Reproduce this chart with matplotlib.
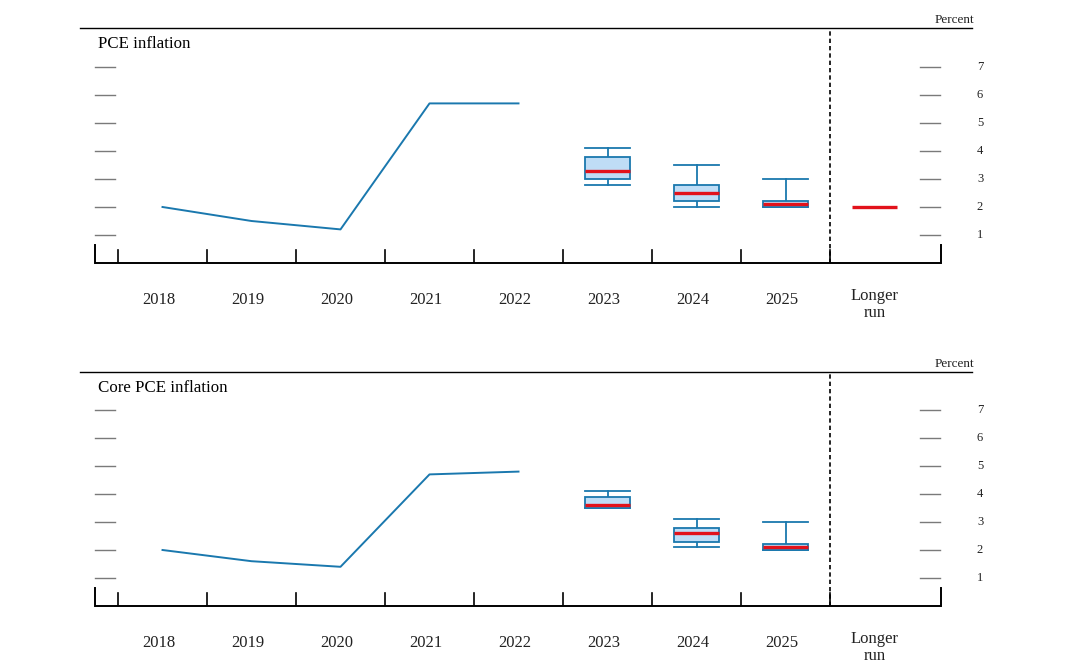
import matplotlib
matplotlib.use("Agg")
import matplotlib.pyplot as plt
from matplotlib.patches import Rectangle

# ---------------- data ----------------
hist_years = ["2018", "2019", "2020", "2021", "2022"]
proj_years = ["2023", "2024", "2025"]
categories = hist_years + proj_years + ["Longer\nrun"]

pce_hist = [2.0, 1.5, 1.2, 5.7, 5.7]
pce_median = [3.3, 2.5, 2.1]
pce_ct_low = [3.0, 2.2, 2.0]
pce_ct_high = [3.8, 2.8, 2.2]
pce_range_low = [2.8, 2.0, 2.0]
pce_range_high = [4.1, 3.5, 3.0]
pce_longer_run = 2.0

core_hist = [2.0, 1.6, 1.4, 4.7, 4.8]
core_median = [3.6, 2.6, 2.1]
core_ct_low = [3.5, 2.3, 2.0]
core_ct_high = [3.9, 2.8, 2.2]
core_range_low = [3.5, 2.1, 2.0]
core_range_high = [4.1, 3.1, 3.0]

y_ticks = [1, 2, 3, 4, 5, 6, 7]
titles = ["PCE inflation", "Core PCE inflation"]

# ---------------- style ----------------
BLUE = "#1a78ae"
FILL = "#bfddf6"
RED = "#e2121b"
GRAY = "#7a7a7a"
TXT = "#222222"
FONT = "Liberation Serif"

W, H = 1082, 669
fig = plt.figure(figsize=(W / 100, H / 100), dpi=100)

PX_PER_CAT = 89.0
CAT0_PX = 162.5
PX_PER_UNIT = 28.0
LEFT_PX, RIGHT_PX = 80, 975


def px2x(px):
    return (px - CAT0_PX) / PX_PER_CAT


def draw_panel(top_px, zero_px, title, hist, med, ctl, cth, rl, rh, lr):
    ax = fig.add_axes([LEFT_PX / W, 1 - zero_px / H,
                       (RIGHT_PX - LEFT_PX) / W, (zero_px - top_px) / H])
    ymax = (zero_px - top_px) / PX_PER_UNIT
    ax.set_xlim(px2x(LEFT_PX), px2x(RIGHT_PX))
    ax.set_ylim(0, ymax)
    for s in ["left", "right", "bottom"]:
        ax.spines[s].set_visible(False)
    ax.spines["top"].set_linewidth(1.0)
    ax.spines["top"].set_bounds(px2x(LEFT_PX), px2x(972))
    ax.set_xticks([])
    ax.set_yticks([])

    xl, xr = px2x(95), px2x(940.5)
    # bottom axis
    ax.plot([xl, xr], [0, 0], color="black", lw=1.4, solid_capstyle="butt",
            clip_on=False)
    tall = 18 / PX_PER_UNIT
    short = 13 / PX_PER_UNIT
    for x in (xl, xr):
        ax.plot([x, x], [0, tall], color="black", lw=1.4, clip_on=False)
    n = len(categories) - 1
    for i in range(n + 1):
        x = i - 0.5
        ax.plot([x, x], [0, short], color="black", lw=1.2)

    # y tick marks (gray dashes) and labels
    for v in y_ticks:
        ax.plot([px2x(95), px2x(115)], [v, v], color=GRAY, lw=1.0)
        ax.plot([px2x(920), px2x(940)], [v, v], color=GRAY, lw=1.0)
        ax.text(px2x(980), v, str(v), ha="center", va="center",
                fontsize=9, family=FONT, color=TXT, clip_on=False)
    ax.text(px2x(974), ymax + 8 / PX_PER_UNIT, "Percent", ha="right",
            va="center", fontsize=9.5, family=FONT, color=TXT, clip_on=False)

    # title
    ax.text(px2x(98), ymax - 16 / PX_PER_UNIT, title, ha="left", va="center",
            fontsize=12.2, family=FONT, color="black")

    # dashed separator
    ax.plot([7.5, 7.5], [0, ymax], color="black", lw=1.2,
            linestyle=(0, (2.6, 1.8)))

    # history line
    ax.plot(range(len(hist)), hist, color=BLUE, lw=1.4)

    # projection boxes
    hw = 0.25
    for j in range(len(med)):
        x = len(hist) + j
        ax.plot([x, x], [cth[j], rh[j]], color=BLUE, lw=1.3)
        ax.plot([x, x], [rl[j], ctl[j]], color=BLUE, lw=1.3)
        ax.plot([x - hw, x + hw], [rh[j], rh[j]], color=BLUE, lw=1.3)
        ax.plot([x - hw, x + hw], [rl[j], rl[j]], color=BLUE, lw=1.3)
        ax.add_patch(Rectangle((x - hw, ctl[j]), 2 * hw, cth[j] - ctl[j],
                               facecolor=FILL, edgecolor=BLUE, lw=1.3,
                               zorder=3))
        ax.plot([x - hw, x + hw], [med[j], med[j]], color=RED, lw=2.4,
                solid_capstyle="butt", zorder=4)
    if lr is not None:
        x = len(categories) - 1
        ax.plot([x - hw, x + hw], [lr, lr], color=RED, lw=2.4,
                solid_capstyle="butt", zorder=4)

    # category labels
    ylab = -37 / PX_PER_UNIT
    for i, c in enumerate(categories):
        if "\n" in c:
            a, b = c.split("\n")
            ax.text(i, -33 / PX_PER_UNIT, a, ha="center", va="center",
                    fontsize=12, family=FONT, color=TXT, clip_on=False)
            ax.text(i, -50 / PX_PER_UNIT, b, ha="center", va="center",
                    fontsize=12, family=FONT, color=TXT, clip_on=False)
        else:
            ax.text(i - 0.045, ylab, c, ha="center", va="center",
                    fontsize=12, family=FONT, color=TXT, clip_on=False)
    return ax


draw_panel(28, 263, titles[0], pce_hist, pce_median, pce_ct_low, pce_ct_high,
           pce_range_low, pce_range_high, pce_longer_run)
draw_panel(372, 606, titles[1], core_hist, core_median, core_ct_low,
           core_ct_high, core_range_low, core_range_high, None)

fig.savefig("out.png", dpi=100)
